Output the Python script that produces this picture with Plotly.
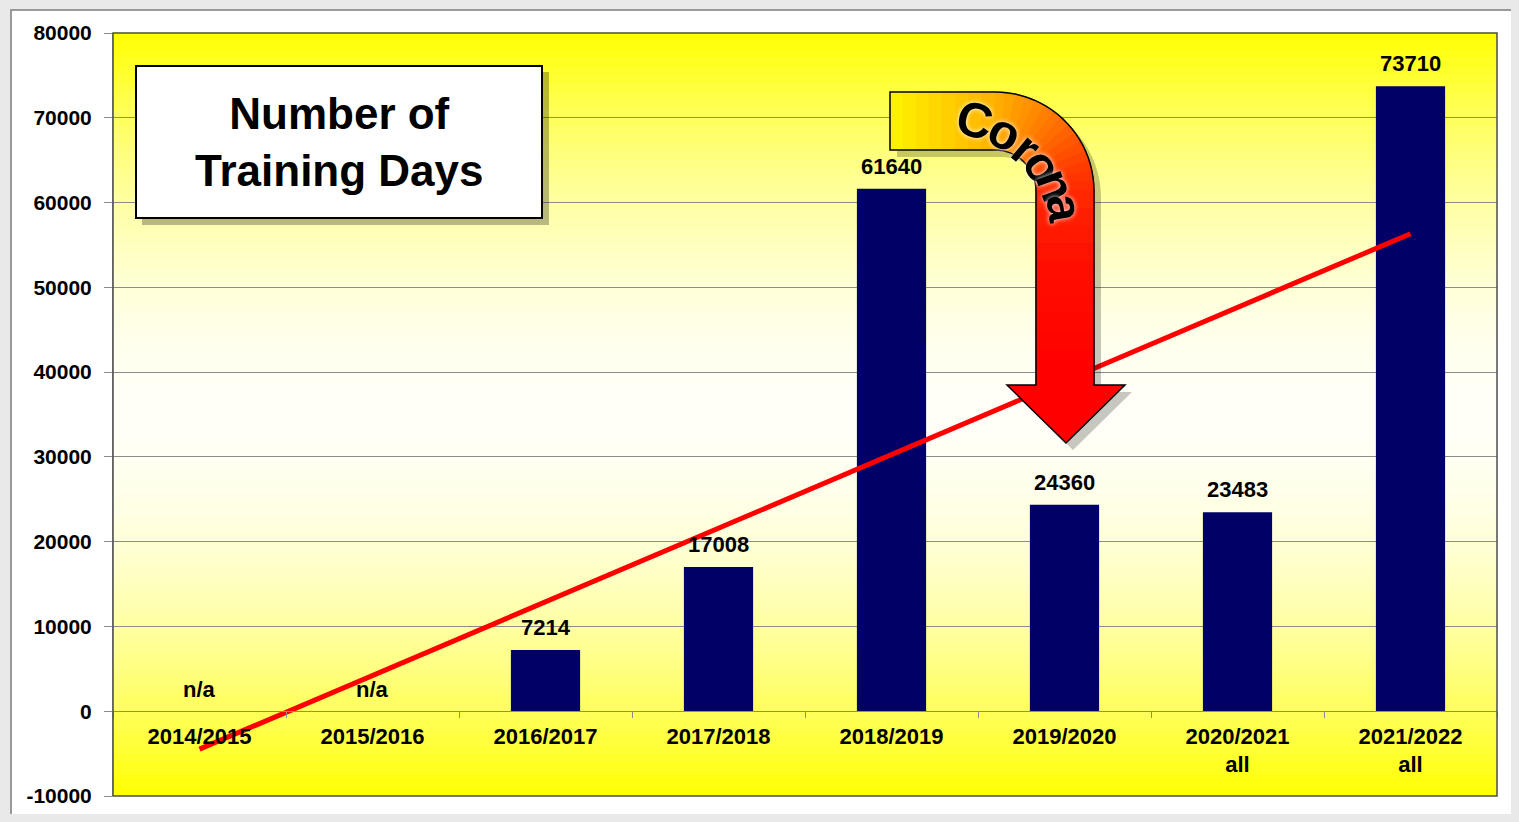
import numpy as np
import plotly.graph_objects as go

# ---- data ----
seasons = ["2014/2015", "2015/2016", "2016/2017", "2017/2018",
           "2018/2019", "2019/2020", "2020/2021<br>all", "2021/2022<br>all"]
training_days = [None, None, 7214, 17008, 61640, 24360, 23483, 73710]
na_seasons = ["2014/2015", "2015/2016"]
# linear trend end points (first and last season)
trend_x = [seasons[0], seasons[-1]]
trend_y = [-4470, 56320]
y_ticks = [-10000, 0, 10000, 20000, 30000, 40000, 50000, 60000, 70000, 80000]

FONT = "Liberation Sans, Arial, sans-serif"
LABEL_FONT = dict(family=FONT, size=22, color="black", weight="bold")
OFF = 8                      # page body margin
FW, FH = 1519 - 2 * OFF, 822 - 2 * OFF
PL, PR, PT, PB = 113, 1497, 33, 796  # plot area in screen pixels


def px(x):
    return (x - PL) / (PR - PL)


def py(y):
    return (PB - y) / (PB - PT)


def path_from(points):
    s = "M {:.5f} {:.5f}".format(px(points[0][0]), py(points[0][1]))
    for x, y in points[1:]:
        s += " L {:.5f} {:.5f}".format(px(x), py(y))
    return s + " Z"


def lerp_col(stops, t):
    for (t0, c0), (t1, c1) in zip(stops[:-1], stops[1:]):
        if t0 <= t <= t1:
            f = (t - t0) / (t1 - t0)
            c = [round(a + (b - a) * f) for a, b in zip(c0, c1)]
            return "rgb({},{},{})".format(*c)
    return "rgb({},{},{})".format(*stops[-1][1])


fig = go.Figure()

fig.add_trace(
    go.Bar(
        x=seasons,
        y=training_days,
        width=0.4,
        marker=dict(color="#000066", line=dict(width=0)),
        showlegend=False,
    )
)

fig.add_trace(
    go.Scatter(
        x=trend_x,
        y=trend_y,
        mode="lines",
        line=dict(color="#ff0000", width=5),
        showlegend=False,
    )
)

# value labels above the bars
for s, v in zip(seasons, training_days):
    if v is None:
        continue
    fig.add_annotation(x=s, y=v, text=str(v), showarrow=False,
                       yanchor="bottom", yshift=8, font=LABEL_FONT)
for s in na_seasons:
    fig.add_annotation(x=s, y=0, text="n/a", showarrow=False,
                       yanchor="bottom", yshift=7, font=LABEL_FONT)

# ---- background: white panel and yellow/white/yellow gradient ----
fig.add_shape(type="rect", xref="paper", yref="paper",
              x0=px(11), x1=px(1540), y0=py(818), y1=py(10),
              fillcolor="white", line=dict(color="#999999", width=2),
              layer="below")
n_strips = 90
for i in range(n_strips):
    t = (i + 0.5) / n_strips
    d = abs(t - 0.5) * 2
    b = round(248 * (1 - d ** 1.8))
    fig.add_shape(type="rect", xref="paper", yref="paper",
                  x0=0, x1=1, y0=1 - (i + 1) / n_strips, y1=1 - i / n_strips,
                  fillcolor="rgb(255,255,{})".format(b),
                  line=dict(width=0.6, color="rgb(255,255,{})".format(b)),
                  layer="below")

# plot frame
fig.add_shape(type="rect", xref="paper", yref="paper", x0=0, x1=1, y0=0, y1=1,
              line=dict(color="#4d4d4d", width=1.5), layer="above")

# ---- title box ----
fig.add_shape(type="rect", xref="paper", yref="paper",
              x0=px(142), x1=px(549), y0=py(225), y1=py(72),
              fillcolor="rgba(0,0,0,0.28)", line=dict(width=0), layer="above")
fig.add_shape(type="rect", xref="paper", yref="paper",
              x0=px(136), x1=px(542), y0=py(218), y1=py(66),
              fillcolor="white", line=dict(color="black", width=2), layer="above")
fig.add_annotation(xref="paper", yref="paper", x=px(339), y=py(142),
                   xanchor="center", yanchor="middle",
                   text="Number of<br>Training Days", showarrow=False,
                   align="center",
                   font=dict(family=FONT, size=44, color="black", weight="bold"))

# ---- Corona arrow ----
CX, CY, RO, RI = 995, 191, 99, 41
X0, Y_END = 890, 385
outline = [(X0, CY - RO), (CX, CY - RO)]
for a in np.linspace(-90, 0, 24)[1:]:
    r = np.radians(a)
    outline.append((CX + RO * np.cos(r), CY + RO * np.sin(r)))
outline += [(CX + RO, Y_END), (1125, Y_END), (1066, 443), (1007, Y_END), (CX + RI, Y_END)]
for a in np.linspace(0, -90, 24):
    r = np.radians(a)
    outline.append((CX + RI * np.cos(r), CY + RI * np.sin(r)))
outline.append((X0, CY - RI))

fig.add_shape(type="path", xref="paper", yref="paper",
              path=path_from([(x + 7, y + 7) for x, y in outline]),
              fillcolor="rgba(0,0,0,0.22)", line=dict(width=0), layer="above")

pieces = []
xs = np.linspace(X0, CX, 9)
for a, b in zip(xs[:-1], xs[1:]):
    pieces.append([(a, CY - RO), (b, CY - RO), (b, CY - RI), (a, CY - RI)])
phis = np.radians(np.linspace(-90, 0, 16))
for a, b in zip(phis[:-1], phis[1:]):
    pieces.append([(CX + RO * np.cos(a), CY + RO * np.sin(a)),
                   (CX + RO * np.cos(b), CY + RO * np.sin(b)),
                   (CX + RI * np.cos(b), CY + RI * np.sin(b)),
                   (CX + RI * np.cos(a), CY + RI * np.sin(a))])
ys = np.linspace(CY, Y_END, 12)
for a, b in zip(ys[:-1], ys[1:]):
    pieces.append([(CX + RO, a), (CX + RO, b), (CX + RI, b), (CX + RI, a)])

stops = [(0.0, (255, 240, 0)), (0.22, (255, 180, 0)), (0.42, (255, 120, 0)),
         (0.6, (255, 60, 0)), (0.8, (255, 15, 0)), (1.0, (255, 0, 0))]
for k, quad in enumerate(pieces):
    col = lerp_col(stops, k / (len(pieces) - 1))
    fig.add_shape(type="path", xref="paper", yref="paper", path=path_from(quad),
                  fillcolor=col, line=dict(width=1, color=col), layer="above")
fig.add_shape(type="path", xref="paper", yref="paper",
              path=path_from([(1007, Y_END), (1125, Y_END), (1066, 443)]),
              fillcolor="#ff0000", line=dict(width=0), layer="above")
fig.add_shape(type="path", xref="paper", yref="paper", path=path_from(outline),
              fillcolor="rgba(0,0,0,0)", line=dict(color="black", width=1.5),
              layer="above")

letters = [("C", 975, 120, 14), ("o", 1005, 132, 26), ("r", 1026, 148, 40),
           ("o", 1043, 166, 56), ("n", 1056, 185, 70), ("a", 1065, 208, 82)]
for ch, lx, ly, rot in letters:
    fig.add_annotation(xref="paper", yref="paper", x=px(lx), y=py(ly),
                       xanchor="center", yanchor="middle",
                       text=ch, showarrow=False, textangle=rot,
                       font=dict(family=FONT, size=49, color="black", weight="bold",
                                 shadow="0px 0px 5px white"))

fig.update_layout(
    width=FW,
    height=FH,
    margin=dict(l=PL - OFF, r=FW - (PR - OFF), t=PT - OFF, b=FH - (PB - OFF)),
    paper_bgcolor="#e9e9e9",
    plot_bgcolor="rgba(0,0,0,0)",
    bargap=0.6,
    showlegend=False,
    font=dict(family=FONT, color="black"),
)
fig.update_xaxes(
    type="category",
    anchor="free",
    position=1 / 9,
    automargin=False,
    showline=True,
    linecolor="#8c8c8c",
    linewidth=1,
    ticks="outside",
    tickson="boundaries",
    ticklen=6,
    tickcolor="#8c8c8c",
    showgrid=False,
    ticklabelstandoff=5,
    tickfont=LABEL_FONT,
)
fig.update_yaxes(
    range=[-10000, 80000],
    tickvals=y_ticks,
    ticktext=[str(v) for v in y_ticks],
    automargin=False,
    showline=True,
    linecolor="#a0a0a0",
    ticks="outside",
    ticklen=8,
    tickcolor="#8c8c8c",
    showgrid=True,
    gridcolor="#8c8c8c",
    gridwidth=1,
    zeroline=False,
    ticklabelstandoff=8,
    tickfont=dict(family=FONT, size=21, color="black", weight="bold"),
)

fig.write_html("out.html", post_script="document.body.style.background='#e9e9e9';")
